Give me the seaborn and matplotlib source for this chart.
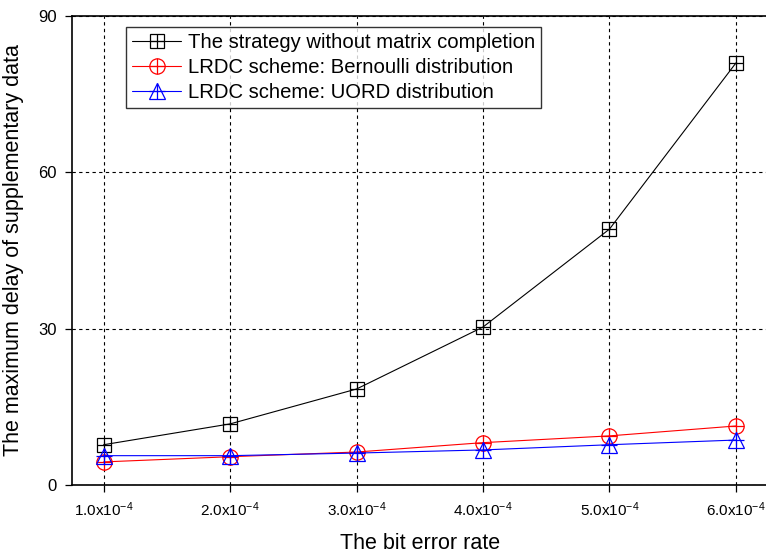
import matplotlib
matplotlib.use("Agg")
import matplotlib.pyplot as plt
import seaborn as sns
import pandas as pd
from matplotlib.legend_handler import HandlerTuple

# Bit error rate (units of 1e-4) and maximum delay values
ber = [1.0, 2.0, 3.0, 4.0, 5.0, 6.0]
tick_labels = [r"1.0x10$^{-4}$", r"2.0x10$^{-4}$", r"3.0x10$^{-4}$",
               r"4.0x10$^{-4}$", r"5.0x10$^{-4}$", r"6.0x10$^{-4}$"]
no_completion = [7.7, 11.7, 18.4, 30.3, 49.1, 81.0]
bernoulli = [4.4, 5.4, 6.3, 8.1, 9.4, 11.3]
uord = [5.6, 5.6, 6.1, 6.7, 7.7, 8.6]

names = ["The strategy without matrix completion",
         "LRDC scheme: Bernoulli distribution",
         "LRDC scheme: UORD distribution"]
colors = ["black", "red", "blue"]
markers = ["s", "o", "^"]
msizes = [10, 11, 11]

sns.set_theme(style="white")
plt.rcParams["font.family"] = ["Liberation Sans", "DejaVu Sans"]
plt.rcParams["mathtext.fontset"] = "custom"
plt.rcParams["mathtext.rm"] = "Liberation Sans"
plt.rcParams["mathtext.it"] = "Liberation Sans"

fig = plt.figure(figsize=(7.66, 5.56), dpi=100)
ax = fig.add_axes([0.094, 0.128, 0.908, 0.843])

handles = []
for name, vals, c, m, ms in zip(names, [no_completion, bernoulli, uord], colors, markers, msizes):
    df = pd.DataFrame({"ber": ber, "delay": vals})
    sns.lineplot(data=df, x="ber", y="delay", ax=ax, color=c, lw=0.8,
                 marker=m, markersize=ms, markerfacecolor="none",
                 markeredgecolor=c, markeredgewidth=0.9)
    line = ax.lines[-1]
    plus = ax.plot(ber, vals, linestyle="none", marker="+", markersize=ms,
                   color=c, markeredgewidth=0.9)[0]
    handles.append((line, plus))

ax.set_xlim(0.75, 6.25)
ax.set_ylim(0, 90)
ax.set_xticks(ber)
ax.set_xticklabels(tick_labels, fontsize=11)
ax.set_yticks([0, 30, 60, 90])
ax.tick_params(axis="y", labelsize=12)
ax.tick_params(direction="out", length=5, width=0.9, color="black",
               labelcolor="black", bottom=True, left=True, pad=6)
ax.set_xlabel("The bit error rate", fontsize=15.5, labelpad=10, color="black")
ax.set_ylabel("The maximum delay of supplementary data", fontsize=15.5,
              labelpad=10, color="black")

ax.grid(True, color="black", linestyle=(0, (3, 3)), linewidth=0.8)
for s in ax.spines.values():
    s.set_color("black")
    s.set_linewidth(1.2)

leg = ax.legend(handles, names, handler_map={tuple: HandlerTuple(ndivide=1)},
                loc="upper left", bbox_to_anchor=(0.078, 0.977), borderaxespad=0,
                fontsize=14.6, frameon=True, fancybox=False, handlelength=2.4,
                handletextpad=0.35, borderpad=0.3, labelspacing=0.3)
leg.get_frame().set_edgecolor("black")
leg.get_frame().set_linewidth(1.0)
for t in leg.get_texts():
    t.set_color("black")

fig.savefig("out.png", dpi=100)
